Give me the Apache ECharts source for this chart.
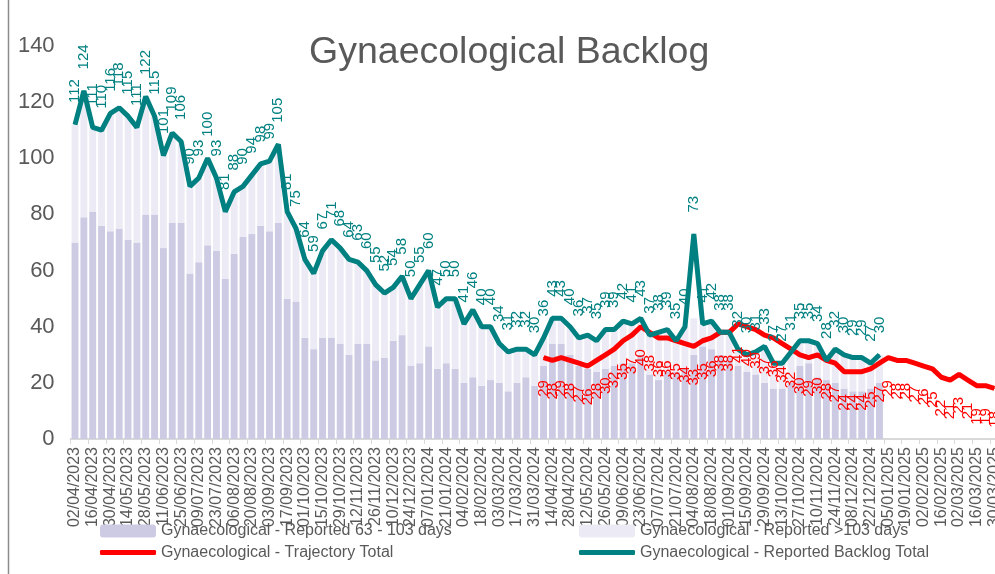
<!DOCTYPE html>
<html><head><meta charset="utf-8">
<script src="https://cdn.jsdelivr.net/npm/echarts@6/dist/echarts.min.js"></script>
<style>html,body{margin:0;padding:0;background:#fff}#c{width:995px;height:574px}</style>
</head><body><div id="c"></div>
<script>
const weeks = [
'02/04/2023','09/04/2023','16/04/2023','23/04/2023','30/04/2023','07/05/2023','14/05/2023','21/05/2023','28/05/2023','04/06/2023',
'11/06/2023','18/06/2023','25/06/2023','02/07/2023','09/07/2023','16/07/2023','23/07/2023','30/07/2023','06/08/2023','13/08/2023',
'20/08/2023','27/08/2023','03/09/2023','10/09/2023','17/09/2023','24/09/2023','01/10/2023','08/10/2023','15/10/2023','22/10/2023',
'29/10/2023','05/11/2023','12/11/2023','19/11/2023','26/11/2023','03/12/2023','10/12/2023','17/12/2023','24/12/2023','31/12/2023',
'07/01/2024','14/01/2024','21/01/2024','28/01/2024','04/02/2024','11/02/2024','18/02/2024','25/02/2024','03/03/2024','10/03/2024',
'17/03/2024','24/03/2024','31/03/2024','07/04/2024','14/04/2024','21/04/2024','28/04/2024','05/05/2024','12/05/2024','19/05/2024',
'26/05/2024','02/06/2024','09/06/2024','16/06/2024','23/06/2024','30/06/2024','07/07/2024','14/07/2024','21/07/2024','28/07/2024',
'04/08/2024','11/08/2024','18/08/2024','25/08/2024','01/09/2024','08/09/2024','15/09/2024','22/09/2024','29/09/2024','06/10/2024',
'13/10/2024','20/10/2024','27/10/2024','03/11/2024','10/11/2024','17/11/2024','24/11/2024','01/12/2024','08/12/2024','15/12/2024',
'22/12/2024','29/12/2024','05/01/2025','12/01/2025','19/01/2025','26/01/2025','02/02/2025','09/02/2025','16/02/2025','23/02/2025',
'02/03/2025','09/03/2025','16/03/2025','23/03/2025','30/03/2025'];

const reported63to103 = [
70,79,81,76,74,75,71,70,80,80,
68,77,77,59,63,69,67,57,66,72,
73,76,74,77,50,49,36,32,36,36,
34,30,34,34,28,29,35,37,26,27,
33,25,27,25,20,22,19,21,20,17,
20,22,19,26,34,34,30,26,25,24,
25,26,27,27,30,23,21,24,24,25,
30,33,32,30,29,26,24,23,20,18,
18,20,26,27,22,21,20,18,17,17,
18,20];

const reportedOver103 = [
42,45,30,34,42,43,44,41,42,35,
33,32,29,31,30,31,26,24,22,18,
21,22,25,28,31,26,28,27,31,35,
34,34,29,26,27,23,19,21,24,28,
27,22,23,25,21,24,21,19,14,14,
12,10,11,10,9,9,10,10,12,11,
14,13,15,14,13,14,17,15,11,15,
13,8,10,8,9,6,6,8,13,9,
9,11,9,8,12,7,12,12,12,12,
9,10];

const backlogTotal = [
112,124,111,110,116,118,115,111,122,115,
101,109,106,90,93,100,93,81,88,90,
94,98,99,105,81,75,64,59,67,71,
68,64,63,60,55,52,54,58,50,55,
60,47,50,50,41,46,40,40,34,31,
32,32,30,36,43,43,40,36,37,35,
39,39,42,41,43,37,38,39,35,40,
73,41,42,38,38,32,30,31,33,27,
27,31,35,35,34,28,32,30,29,29,
27,30];

const trajectoryStartWeek = '07/04/2024';
const trajectoryTotal = [
29,28,29,28,27,26,28,30,32,35,
37,40,38,36,36,35,34,33,35,36,
38,38,41,40,39,37,36,34,32,30,
29,30,28,27,24,24,24,25,27,29,
28,28,27,26,25,22,21,23,21,19,
19,18];

const seriesNames = [
'Gynaecological - Reported 63 - 103 days',
'Gynaecological - Reported >103 days',
'Gynaecological - Trajectory Total',
'Gynaecological - Reported Backlog Total'];

const startIdx = weeks.indexOf(trajectoryStartWeek);
const trajData = weeks.map((w, i) => i >= startIdx ? trajectoryTotal[i - startIdx] : null);

const font = '"Liberation Sans", Arial, sans-serif';
const txt = '#595959';
const chart = echarts.init(document.getElementById('c'));
const legendBase = {orient:'horizontal', padding:0, itemWidth:56, selectedMode:false,
  textStyle:{fontSize:16, color:txt, fontFamily:font}};
chart.setOption({
  animation:false,
  textStyle:{fontFamily:font},
  title:{text:'Gynaecological Backlog', left:304, top:29,
    textStyle:{fontSize:37.5, fontWeight:'normal', color:txt, fontFamily:font}},
  graphic:[{type:'line', shape:{x1:8.5,y1:0,x2:8.5,y2:574}, style:{stroke:'#8c8c8c', lineWidth:1.5}}],
  legend:[
    Object.assign({}, legendBase, {left:100, top:523, itemHeight:13, data:[{name:seriesNames[0], icon:'roundRect'}]}),
    Object.assign({}, legendBase, {left:579, top:523, itemHeight:13, data:[{name:seriesNames[1], icon:'roundRect'}]}),
    Object.assign({}, legendBase, {left:100, top:544.5, itemHeight:5, data:[{name:seriesNames[2], icon:'roundRect'}]}),
    Object.assign({}, legendBase, {left:579, top:544.5, itemHeight:5, data:[{name:seriesNames[3], icon:'roundRect'}]})
  ],
  grid:{left:70.6, top:46, width:928.2, height:393, containLabel:false, outerBoundsMode:'none'},
  xAxis:{type:'category', data:weeks, boundaryGap:true,
    axisLine:{lineStyle:{color:'#d9d9d9', width:2}},
    axisTick:{show:true, interval:1, alignWithLabel:false, length:5, lineStyle:{color:'#d9d9d9'}},
    axisLabel:{rotate:90, interval:1, fontSize:16, color:txt, margin:8, fontFamily:font}},
  yAxis:{type:'value', min:0, max:140, interval:20,
    axisLine:{show:false}, axisTick:{show:false}, splitLine:{show:false},
    axisLabel:{fontSize:22, color:txt, margin:16, fontFamily:font}},
  series:[
    {name:seriesNames[0], type:'bar', stack:'b', data:reported63to103, barCategoryGap:'22%',
      itemStyle:{color:'#cdcbe4'}},
    {name:seriesNames[1], type:'bar', stack:'b', data:reportedOver103,
      itemStyle:{color:'#ecebf5'}},
    {name:seriesNames[2], type:'line', data:trajData, connectNulls:false,
      symbol:'circle', symbolSize:1, showSymbol:true, color:'#ff0000',
      lineStyle:{color:'#ff0000', width:5},
      label:{show:true, position:'bottom', rotate:90, align:'right', verticalAlign:'middle', distance:22,
        color:'#ff0000', fontSize:15, fontFamily:font}},
    {name:seriesNames[3], type:'line', data:backlogTotal,
      symbol:'circle', symbolSize:1, showSymbol:true, color:'#008080',
      lineStyle:{color:'#008080', width:5},
      label:{show:true, position:'top', rotate:90, align:'left', verticalAlign:'middle', distance:21,
        color:'#008080', fontSize:15, fontFamily:font}}
  ]
});
</script>
</body></html>
